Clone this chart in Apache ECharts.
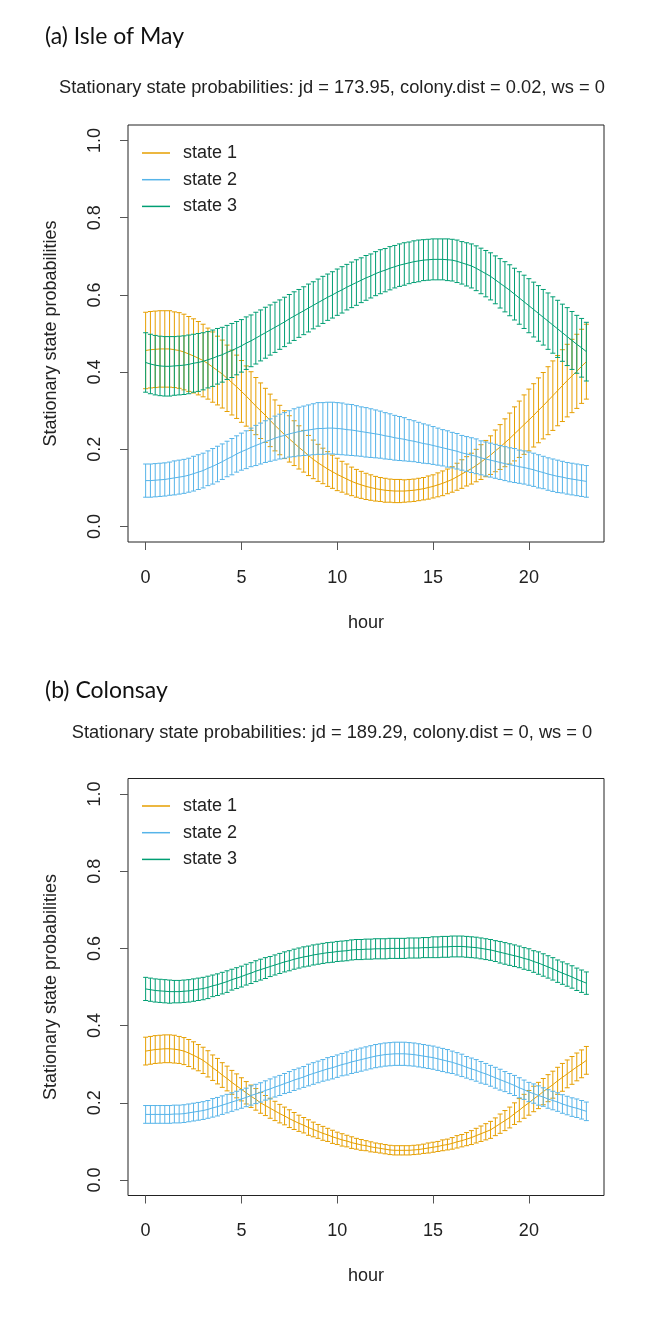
<!DOCTYPE html>
<html>
<head>
<meta charset="utf-8">
<script src="https://cdn.jsdelivr.net/npm/echarts@6/dist/echarts.min.js"></script>
<style>
  html, body { margin: 0; padding: 0; background: #fff; }
  #chart { width: 650px; height: 1323px; }
</style>
</head>
<body>
<div id="chart"></div>
<script>
// hour grid (every quarter hour)
var hours = [
  0, 0.25, 0.5, 0.75, 1, 1.25, 1.5, 1.75, 2, 2.25, 2.5, 2.75,
  3, 3.25, 3.5, 3.75, 4, 4.25, 4.5, 4.75, 5, 5.25, 5.5, 5.75,
  6, 6.25, 6.5, 6.75, 7, 7.25, 7.5, 7.75, 8, 8.25, 8.5, 8.75,
  9, 9.25, 9.5, 9.75, 10, 10.25, 10.5, 10.75, 11, 11.25, 11.5, 11.75,
  12, 12.25, 12.5, 12.75, 13, 13.25, 13.5, 13.75, 14, 14.25, 14.5, 14.75,
  15, 15.25, 15.5, 15.75, 16, 16.25, 16.5, 16.75, 17, 17.25, 17.5, 17.75,
  18, 18.25, 18.5, 18.75, 19, 19.25, 19.5, 19.75, 20, 20.25, 20.5, 20.75,
  21, 21.25, 21.5, 21.75, 22, 22.25, 22.5, 22.75, 23
];

// (a) Isle of May
var aMean1 = [
  .456,.458,.459,.460, .460,.460,.458,.456, .452,.447,.442,.436,
  .430,.422,.413,.404, .395,.384,.373,.362, .350,.338,.325,.312,
  .300,.288,.275,.262, .250,.238,.227,.216, .205,.195,.184,.174,
  .165,.157,.149,.142, .135,.129,.123,.117, .112,.108,.104,.101,
  .098,.096,.094,.093, .092,.092,.092,.093, .094,.096,.098,.101,
  .104,.108,.112,.117, .122,.129,.136,.143, .150,.158,.167,.176,
  .185,.196,.206,.217, .228,.240,.252,.264, .276,.288,.301,.313,
  .326,.339,.352,.365, .378,.390,.402,.415, .427
];
var aErr1 = [
  .099,.099,.099,.099, .099,.099,.098,.098, .098,.097,.096,.095,
  .094,.092,.091,.089, .088,.086,.084,.082, .080,.078,.076,.074,
  .072,.070,.068,.066, .064,.062,.060,.058, .056,.054,.052,.050,
  .048,.046,.045,.043, .042,.040,.039,.037, .036,.035,.034,.033,
  .032,.031,.031,.030, .030,.030,.029,.029, .029,.029,.029,.030,
  .030,.031,.032,.032, .033,.035,.037,.038, .040,.042,.045,.047,
  .050,.054,.058,.062, .066,.070,.073,.077, .080,.082,.084,.086,
  .088,.090,.091,.093, .094,.095,.096,.096, .097
];
var aMean2 = [
  .119,.119,.120,.121, .122,.124,.126,.128, .130,.133,.137,.141,
  .145,.151,.156,.162, .168,.175,.181,.188, .194,.199,.205,.210,
  .215,.220,.224,.229, .233,.236,.240,.243, .246,.248,.250,.252,
  .254,.254,.255,.255, .254,.253,.251,.250, .248,.246,.244,.242,
  .240,.238,.235,.233, .230,.228,.226,.223, .221,.218,.215,.213,
  .210,.207,.204,.201, .198,.195,.191,.188, .185,.182,.178,.175,
  .172,.169,.166,.163, .160,.158,.155,.153, .150,.147,.143,.140,
  .136,.133,.130,.128, .125,.123,.121,.119, .117
];
var aErr2 = [
  .043,.043,.043,.043, .043,.043,.044,.044, .044,.044,.045,.045,
  .045,.045,.046,.046, .046,.046,.047,.047, .048,.049,.050,.052,
  .053,.054,.055,.057, .058,.059,.060,.062, .063,.064,.065,.066,
  .067,.067,.067,.067, .067,.067,.066,.066, .065,.064,.064,.063,
  .062,.061,.060,.059, .058,.057,.056,.054, .053,.052,.051,.050,
  .049,.048,.047,.047, .046,.046,.045,.045, .045,.045,.044,.044,
  .044,.044,.044,.044, .044,.044,.043,.043, .043,.043,.043,.042,
  .042,.042,.042,.041, .041,.041,.041,.041, .041
];
var aMean3 = [
  .425,.421,.418,.416, .415,.415,.416,.417, .418,.420,.423,.425,
  .428,.432,.436,.441, .445,.451,.456,.462, .468,.475,.481,.488,
  .495,.502,.509,.516, .523,.530,.538,.545, .552,.559,.566,.573,
  .580,.587,.594,.600, .607,.613,.620,.626, .632,.638,.644,.649,
  .655,.660,.664,.669, .673,.677,.680,.683, .686,.688,.690,.691,
  .692,.692,.692,.691, .690,.687,.683,.679, .675,.669,.662,.655,
  .648,.639,.630,.621, .612,.602,.592,.582, .572,.562,.552,.542,
  .532,.522,.512,.502, .492,.482,.472,.463, .453
];
var aErr3 = [
  .077,.077,.077,.077, .077,.077,.076,.076, .076,.076,.075,.075,
  .074,.073,.073,.072, .071,.070,.070,.069, .068,.068,.067,.067,
  .066,.066,.065,.065, .064,.064,.063,.063, .062,.062,.062,.061,
  .061,.061,.060,.060, .060,.060,.059,.059, .059,.058,.058,.057,
  .057,.057,.056,.056, .055,.055,.055,.054, .054,.054,.053,.053,
  .053,.053,.053,.054, .054,.055,.055,.056, .057,.058,.059,.060,
  .061,.062,.064,.065, .066,.067,.068,.069, .070,.071,.072,.072,
  .073,.073,.074,.074, .075,.075,.075,.076, .076
];

// (b) Colonsay
var bMean1 = [
  .334,.336,.338,.339, .340,.340,.339,.337, .334,.329,.323,.317,
  .310,.301,.291,.282, .272,.263,.253,.244, .235,.226,.217,.209,
  .200,.193,.186,.179, .172,.166,.159,.153, .147,.142,.136,.131,
  .126,.121,.117,.112, .108,.104,.101,.097, .094,.091,.089,.086,
  .084,.082,.080,.078, .077,.077,.077,.077, .078,.079,.081,.083,
  .085,.087,.090,.092, .095,.099,.102,.106, .110,.115,.120,.125,
  .130,.138,.146,.154, .162,.172,.181,.191, .200,.210,.219,.229,
  .238,.247,.257,.266, .275,.284,.293,.301, .310
];
var bErr1 = [
  .036,.036,.036,.036, .036,.036,.036,.035, .035,.035,.035,.034,
  .034,.034,.033,.033, .032,.032,.031,.031, .030,.029,.029,.028,
  .027,.026,.026,.025, .024,.023,.023,.022, .021,.020,.020,.019,
  .018,.018,.017,.017, .016,.016,.015,.015, .014,.014,.013,.013,
  .012,.012,.012,.012, .012,.012,.012,.012, .012,.012,.012,.013,
  .013,.013,.014,.014, .015,.016,.016,.017, .018,.019,.020,.021,
  .022,.023,.025,.026, .027,.028,.030,.031, .032,.033,.034,.034,
  .035,.035,.035,.036, .036,.036,.036,.036, .036
];
var bMean2 = [
  .170,.170,.170,.170, .170,.170,.171,.171, .172,.174,.176,.178,
  .180,.183,.187,.190, .194,.198,.202,.206, .210,.214,.219,.223,
  .227,.232,.236,.241, .245,.250,.254,.259, .263,.267,.272,.276,
  .280,.284,.288,.291, .295,.299,.302,.306, .309,.312,.315,.318,
  .321,.323,.325,.326, .327,.327,.327,.326, .325,.323,.321,.319,
  .317,.314,.311,.308, .305,.301,.297,.292, .288,.284,.279,.275,
  .270,.265,.260,.255, .250,.245,.239,.234, .228,.224,.219,.215,
  .210,.206,.202,.197, .193,.189,.186,.182, .178
];
var bErr2 = [
  .023,.023,.023,.023, .023,.023,.023,.023, .023,.023,.023,.023,
  .023,.023,.024,.024, .024,.024,.024,.024, .024,.024,.025,.025,
  .025,.025,.026,.026, .026,.026,.027,.027, .027,.027,.028,.028,
  .028,.028,.029,.029, .029,.029,.030,.030, .030,.030,.030,.030,
  .030,.030,.030,.030, .030,.030,.030,.030, .030,.030,.030,.030,
  .030,.030,.030,.030, .029,.029,.029,.028, .028,.028,.028,.027,
  .027,.027,.027,.026, .026,.026,.026,.025, .025,.025,.025,.024,
  .024,.024,.024,.024, .024,.024,.024,.024, .024
];
var bMean3 = [
  .495,.493,.491,.490, .489,.488,.488,.488, .489,.490,.492,.494,
  .496,.499,.503,.506, .510,.514,.519,.523, .527,.532,.536,.541,
  .545,.549,.553,.557, .561,.565,.568,.572, .575,.578,.580,.583,
  .585,.587,.589,.590, .592,.593,.594,.596, .597,.597,.598,.598,
  .599,.599,.599,.600, .600,.600,.600,.601, .601,.601,.602,.602,
  .603,.603,.604,.604, .605,.605,.605,.604, .603,.602,.600,.598,
  .596,.593,.590,.587, .584,.581,.578,.574, .571,.566,.562,.557,
  .552,.547,.541,.536, .531,.526,.520,.515, .510
];
var bErr3 = [
  .030,.030,.030,.030, .030,.030,.029,.029, .029,.029,.029,.029,
  .029,.029,.028,.028, .028,.028,.027,.027, .027,.027,.027,.027,
  .027,.027,.026,.026, .026,.026,.026,.026, .026,.026,.026,.026,
  .026,.026,.026,.026, .026,.026,.026,.026, .026,.026,.026,.026,
  .026,.026,.026,.026, .026,.026,.026,.026, .026,.026,.026,.026,
  .027,.027,.027,.027, .027,.027,.027,.027, .027,.027,.027,.027,
  .027,.027,.028,.028, .028,.028,.028,.028, .028,.028,.029,.029,
  .029,.029,.029,.029, .029,.029,.029,.029, .029
];

var stateNames = ['state 1', 'state 2', 'state 3'];
var colors = ['#E69F00', '#56B4E9', '#009E73'];
var xTicks = [0, 5, 10, 15, 20];
var yTicks = [0, 0.2, 0.4, 0.6, 0.8, 1.0];

var titleA = '(a) Isle of May';
var subA = 'Stationary state probabilities: jd = 173.95, colony.dist = 0.02, ws = 0';
var titleB = '(b) Colonsay';
var subB = 'Stationary state probabilities: jd = 189.29, colony.dist = 0, ws = 0';

var chart = echarts.init(document.getElementById('chart'));

function renderBars(params, api) {
  var x = api.value(0);
  var lo = api.coord([x, api.value(1)]);
  var hi = api.coord([x, api.value(2)]);
  var c = api.visual('color');
  var w = 2.5;
  var st = { stroke: c, lineWidth: 1 };
  return {
    type: 'group',
    children: [
      { type: 'line', shape: { x1: lo[0], y1: lo[1], x2: hi[0], y2: hi[1] }, style: st },
      { type: 'line', shape: { x1: lo[0] - w, y1: lo[1], x2: lo[0] + w, y2: lo[1] }, style: st },
      { type: 'line', shape: { x1: hi[0] - w, y1: hi[1], x2: hi[0] + w, y2: hi[1] }, style: st }
    ]
  };
}

function panelSeries(idx, means, errs) {
  var out = [];
  for (var s = 0; s < 3; s++) {
    var m = means[s], e = errs[s];
    out.push({
      name: stateNames[s] + ' ci',
      type: 'custom',
      xAxisIndex: idx, yAxisIndex: idx,
      renderItem: renderBars,
      itemStyle: { color: colors[s] },
      encode: { x: 0, y: [1, 2] },
      data: hours.map(function (h, i) { return [h, m[i] - e[i], m[i] + e[i]]; }),
      z: 2 + s
    });
    out.push({
      name: stateNames[s],
      type: 'line',
      xAxisIndex: idx, yAxisIndex: idx,
      showSymbol: false,
      symbol: 'none',
      color: colors[s],
      lineStyle: { width: 1, color: colors[s] },
      data: hours.map(function (h, i) { return [h, m[i]]; }),
      z: 2 + s
    });
  }
  return out;
}

var font = 'Liberation Sans, Arial, sans-serif';
var fs = 18;

function xAxisFor(idx) {
  return {
    gridIndex: idx, type: 'value', min: -0.92, max: 23.92,
    name: 'hour', nameLocation: 'middle', nameGap: 72,
    nameTextStyle: { fontFamily: font, fontSize: fs, color: '#222' },
    axisLine: { show: false, onZero: false },
    axisTick: { show: true, length: 8, customValues: xTicks, lineStyle: { color: '#555' } },
    axisLabel: { customValues: xTicks, margin: 27, fontFamily: font, fontSize: fs, color: '#222' },
    splitLine: { show: false }
  };
}
function yAxisFor(idx) {
  return {
    gridIndex: idx, type: 'value', min: -0.04, max: 1.04,
    name: 'Stationary state probabilities', nameLocation: 'middle', nameGap: 68, nameRotate: 90,
    nameTextStyle: { fontFamily: font, fontSize: fs, color: '#222' },
    axisLine: { show: false, onZero: false },
    axisTick: { show: true, length: 8, customValues: yTicks, lineStyle: { color: '#555' } },
    axisLabel: {
      customValues: yTicks, rotate: 90, margin: 24, fontFamily: font, fontSize: fs, color: '#222',
      formatter: function (v) { return v.toFixed(1); }
    },
    splitLine: { show: false }
  };
}
function legendFor(top) {
  return {
    data: stateNames, orient: 'vertical', left: 142, top: top, padding: 0,
    icon: 'rect', itemWidth: 28, itemHeight: 1.5, itemGap: 6.7,
    selectedMode: false,
    textStyle: { fontFamily: font, fontSize: fs, color: '#222', lineHeight: 20, padding: [0, 0, 0, 8] }
  };
}

chart.setOption({
  animation: false,
  backgroundColor: '#fff',
  grid: [
    { left: 128, top: 125, width: 476, height: 417, show: true, borderColor: '#222', borderWidth: 1, backgroundColor: 'transparent' },
    { left: 128, top: 778.5, width: 476, height: 417, show: true, borderColor: '#222', borderWidth: 1, backgroundColor: 'transparent' }
  ],
  xAxis: [xAxisFor(0), xAxisFor(1)],
  yAxis: [yAxisFor(0), yAxisFor(1)],
  legend: [legendFor(143), legendFor(796)],
  graphic: [
    { type: 'text', left: 45, top: 25, style: { text: titleA, font: '23px Lato, "Open Sans", sans-serif', fill: '#111' } },
    { type: 'text', x: 332, y: 88, style: { text: subA, font: '18.3px ' + font, fill: '#222', textAlign: 'center', textVerticalAlign: 'middle' } },
    { type: 'text', left: 45, top: 679, style: { text: titleB, font: '23px Lato, "Open Sans", sans-serif', fill: '#111' } },
    { type: 'text', x: 332, y: 733, style: { text: subB, font: '18.3px ' + font, fill: '#222', textAlign: 'center', textVerticalAlign: 'middle' } }
  ],
  series: panelSeries(0, [aMean1, aMean2, aMean3], [aErr1, aErr2, aErr3])
    .concat(panelSeries(1, [bMean1, bMean2, bMean3], [bErr1, bErr2, bErr3]))
});
</script>
</body>
</html>
